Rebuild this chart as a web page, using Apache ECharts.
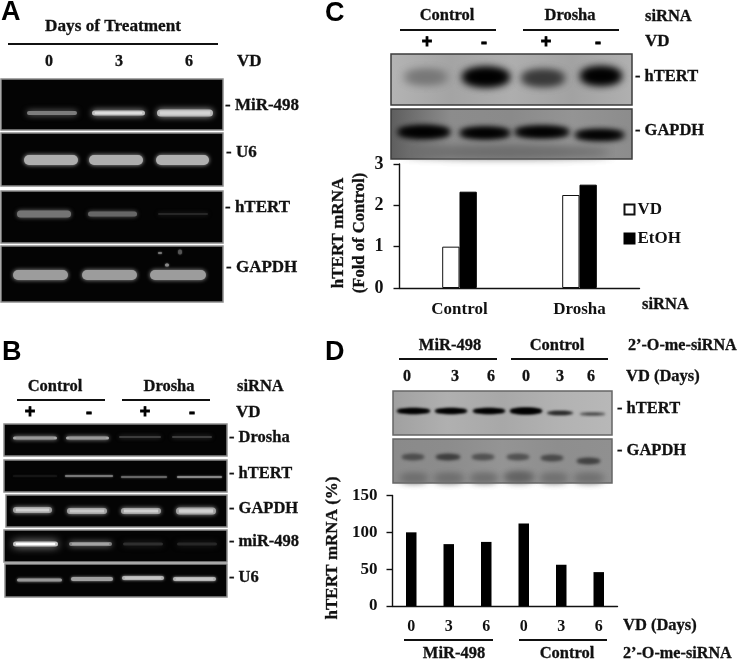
<!DOCTYPE html>
<html>
<head>
<meta charset="utf-8">
<style>html,body{margin:0;padding:0;background:#fff}#c{width:745px;height:659px;filter:blur(0.45px)}</style>
<script src="https://cdn.jsdelivr.net/npm/echarts@6/dist/echarts.min.js"></script>
</head>
<body>
<div id="c"></div>
<script>
// ---- chart data ----
var siRnaCategories = ['Control', 'Drosha'];
var vdValues = [1.0, 2.25];
var etohValues = [2.33, 2.5];
var dayCategories = ['0', '3', '6', '0', '3', '6'];
var mrnaPercent = [100, 84, 87, 112, 56, 46];

// ---- text annotations: [text, x, y, size, align] ----
var SERIF = '"Liberation Serif","Times New Roman",serif';
var SANS = '"Liberation Sans",Arial,sans-serif';
var notes = [
  ['Days of Treatment',113,27,17.2,'center'],
  ['0',49,62,16,'center'],['3',119,62,16,'center'],['6',189,62,16,'center'],['VD',237,62,17,'left'],
  ['- MiR-498',225,106,17,'left'],['- U6',226,153,17,'left'],['- hTERT',225,208,17,'left'],['- GAPDH',226,268,17,'left'],
  ['Control',55,387,16.5,'center'],['Drosha',169,387,16.5,'center'],['siRNA',237,387,16.5,'left'],
  ['VD',236,413,17,'left'],
  ['- Drosha',229,438,16.5,'left'],['- hTERT',229,474,16.5,'left'],['- GAPDH',229,509,16.5,'left'],['- miR-498',229,542,16.5,'left'],['- U6',229,578,16.5,'left'],
  ['Control',447,16,16.5,'center'],['Drosha',570,16,16.5,'center'],['siRNA',645,17,16.5,'left'],
  ['VD',645,42,17,'left'],
  ['- hTERT',635,77,16.5,'left'],['- GAPDH',635,131,16.5,'left'],
  ['siRNA',642,305,16.5,'left'],
  ['MiR-498',450,346,16.5,'center'],['Control',557,346,16.5,'center'],['2\u2019-O-me-siRNA',628,346,16.2,'left'],
  ['0',407,377,16,'center'],['3',455,377,16,'center'],['6',491,377,16,'center'],['0',526,377,16,'center'],['3',560,377,16,'center'],['6',591,377,16,'center'],
  ['VD (Days)',626,377,16.5,'left'],
  ['- hTERT',617,409,16.5,'left'],['- GAPDH',617,451,16.5,'left'],
  ['VD (Days)',623,626,16.5,'left'],
  ['MiR-498',454,654,16.5,'center'],['Control',567,654,16.5,'center'],['2\u2019-O-me-siRNA',623,654,16.2,'left']
];
var signs = [['+',30,412],['-',89,413],['+',145,412],['-',192,413],['+',427,42],['-',484,43],['+',546,42],['-',598,43]];
var panelLetters = [['A',1,13],['B',2,353],['C',325,14],['D',325,353]];
var rotatedNotes = [['hTERT mRNA',339,233,17],['(Fold of Control)',360,233,16.6],['hTERT mRNA (%)',333,548,17]];
var rules = [[8,218,44],[17,105,400],[122,210,400],[400,496,30],[523,619,30],[399,497,359],[511,608,359],[404,493,640],[519,607,640]];

// ---- blot artwork: panel box, background, then bands [x1,x2,yc,h,colour,blur,coreColour] ----
var blots = [
 {box:[1,79,222,51],bands:[[27,77,113,4,'#7c7c7c',3],[92,145,113,5,'#bcbcbc',3,'#dcdcdc'],[157,213,113,7,'#b8b8b8',3,'#d4d4d4']]},
 {box:[1,133,222,53],bands:[[24,78,160,10,'#adadad',2],[89,143,160,10,'#adadad',2],[156,209,160,10,'#b0b0b0',2]]},
 {box:[1,191,222,52],bands:[[17,71,214,7,'#747474',2],[88,137,214,5,'#666',2],[158,208,214,2,'#262626',2]]},
 {box:[1,246,222,56],bands:[[13,68,275,10,'#9c9c9c',2],[82,137,275,10,'#9c9c9c',2],[150,206,275,10,'#9c9c9c',2],[165,169,265,3,'#8a8a8a',1],[178,182,252,5,'#555',1],[158,162,253,2,'#777',1]]},
 {box:[4,424,223,32],bands:[[13,57,438,3,'#a8a8a8',2,'#909090'],[66,109,438,3,'#a8a8a8',2,'#909090'],[119,161,437,2,'#3c3c3c',2],[172,212,437,2,'#3c3c3c',2]]},
 {box:[4,460,223,32],bands:[[13,57,476,1,'#1e1e1e',1],[65,113,476,2,'#777',1],[121,167,477,2,'#666',1],[177,222,477,2,'#888',1]]},
 {box:[6,495,221,32],bands:[[13,52,510,6,'#a0a0a0',2,'#d0d0d0'],[67,107,511,6,'#a0a0a0',2,'#c8c8c8'],[121,161,511,6,'#a0a0a0',2,'#d0d0d0'],[176,216,511,7,'#a0a0a0',2,'#d0d0d0']]},
 {box:[4,530,223,32],bands:[[13,58,544,5,'#c0c0c0',4,'#fff'],[69,112,544,4,'#808080',3,'#a8a8a8'],[123,163,544,3,'#2e2e2e',3],[177,217,544,3,'#262626',3]]},
 {box:[5,564,222,33],bands:[[17,62,580,3,'#989898',1.5],[71,113,579,4,'#a0a0a0',1.5],[122,164,578,4,'#b0b0b0',1.5,'#c8c8c8'],[173,216,579,4,'#b0b0b0',1.5,'#c8c8c8']]},
 {box:[391,54,241,51],border:'#3c3c3c',film:['#b4b4b4','#a4a4a4','#aeaeae','#a2a2a2','#b0b0b0'],bands:[[405,447,77,12,'#767676',8],[463,509,77,17,'#000',7],[522,564,78,14,'#383838',7],[581,621,76,16,'#000',7]]},
 {box:[391,109,241,50],border:'#3c3c3c',film:['#5e5e5e','#8c8c8c','#8a8a8a','#949494','#8c8c8c'],bands:[[398,450,132,11,'#000',5],[460,510,133,10,'#000',5],[515,569,132,10,'#000',5],[575,624,135,9,'#000',5],[405,610,152,8,'#6a6a6a',8]]},
 {box:[393,391,219,44],border:'#666',film:['#a0a0a0','#b0b0b0','#a8a8a8','#b2b2b2','#b8b8b8'],bands:[[397,430,411,5,'#000',2.5],[435,467,411,5,'#000',2.5],[473,505,411,5,'#000',2.5],[510,542,411,6,'#000',2.5],[547,573,413,3,'#222',2.5],[580,605,414,2,'#444',2.5]]},
 {box:[393,439,219,44],border:'#666',film:['#8a8a8a','#8c8c8c','#949494','#8e8e8e','#909090'],bands:[[402,424,457,5,'#4c4c4c',3],[436,460,457,5,'#3c3c3c',3],[472,494,457,5,'#505050',3],[507,529,457,5,'#505050',3],[541,563,458,5,'#484848',3],[577,600,461,5,'#404040',3],[400,428,478,7,'#6c6c6c',6],[434,464,478,7,'#6c6c6c',6],[470,498,478,7,'#6c6c6c',6],[504,534,477,8,'#606060',6],[540,568,478,7,'#6e6e6e',6],[574,604,478,7,'#6e6e6e',6]]}
];

// ---- build graphic artwork ----
var OFF = 1500;
var graphics = [];
blots.forEach(function (p) {
  var b = p.box, fill = '#040404';
  if (p.film) {
    fill = new echarts.graphic.LinearGradient(0, 0, 1, 0, p.film.map(function (c, i) {
      return { offset: i / (p.film.length - 1), color: c };
    }));
  }
  graphics.push({ type: 'rect', silent: true, shape: { x: b[0], y: b[1], width: b[2], height: b[3] },
    style: { fill: fill, stroke: p.border || '#8c8c8c', lineWidth: 1.5 } });
  p.bands.forEach(function (s) {
    if (p.film) {
      // film bands: only the blurred shadow of a lens shape is visible
      for (var k = 0; k < 2; k++) {
        graphics.push({ type: 'ellipse', silent: true,
          shape: { cx: (s[0] + s[1]) / 2 - OFF, cy: s[2], rx: (s[1] - s[0]) / 2, ry: s[3] / 2 },
          style: { fill: s[4], shadowBlur: s[5] * 1.2, shadowColor: s[4], shadowOffsetX: OFF } });
      }
      return;
    }
    graphics.push({ type: 'rect', silent: true,
      shape: { x: s[0], y: s[2] - s[3] / 2, width: s[1] - s[0], height: s[3], r: s[3] / 2 },
      style: { fill: s[4], shadowBlur: s[5] * 2, shadowColor: s[4] } });
    if (s[6]) {
      graphics.push({ type: 'rect', silent: true,
        shape: { x: s[0] + 3, y: s[2] - s[3] / 5, width: s[1] - s[0] - 6, height: s[3] / 2.5 },
        style: { fill: s[6], shadowBlur: 2, shadowColor: s[6] } });
    }
  });
});
rules.forEach(function (r) {
  graphics.push({ type: 'line', silent: true, shape: { x1: r[0], y1: r[2], x2: r[1], y2: r[2] },
    style: { stroke: '#111', lineWidth: 2 } });
});
notes.forEach(function (n) {
  graphics.push({ type: 'text', silent: true, x: n[1], y: n[2],
    style: { text: n[0], fill: '#111', stroke: '#111', lineWidth: 0.3, font: 'bold ' + n[3] + 'px ' + SERIF, align: n[4], verticalAlign: 'middle' } });
});
signs.forEach(function (n) {
  graphics.push({ type: 'text', silent: true, x: n[1], y: n[2],
    style: { text: n[0], fill: '#000', stroke: '#000', lineWidth: 0.8, font: 'bold 18px ' + SANS, align: 'center', verticalAlign: 'middle' } });
});
rotatedNotes.forEach(function (n) {
  graphics.push({ type: 'text', silent: true, x: n[1], y: n[2], rotation: Math.PI / 2,
    style: { text: n[0], fill: '#111', stroke: '#111', lineWidth: 0.3, font: 'bold ' + n[3] + 'px ' + SERIF, align: 'center', verticalAlign: 'middle' } });
});
panelLetters.forEach(function (n) {
  graphics.push({ type: 'text', silent: true, x: n[1], y: n[2],
    style: { text: n[0], fill: '#000', font: 'bold 27px ' + SANS, align: 'left', verticalAlign: 'middle' } });
});

var axisLine = { lineStyle: { color: '#111', width: 1.4 } };
var tick = { length: 6, lineStyle: { color: '#111', width: 1.4 } };
var labelFont = { color: '#111', fontFamily: SERIF, fontWeight: 'bold' };

var option = {
  animation: false,
  backgroundColor: '#fff',
  textStyle: { fontFamily: SERIF },
  legend: {
    orient: 'vertical', left: 623.5, top: 201, itemWidth: 10, itemHeight: 10, itemGap: 12, padding: 0,
    icon: 'rect', selectedMode: false,
    textStyle: { color: '#111', fontFamily: SERIF, fontWeight: 'bold', fontSize: 17, padding: [0, 0, 0, -2] },
    data: ['VD', 'EtOH']
  },
  grid: [
    { left: 399.5, top: 164, width: 240, height: 124, containLabel: false },
    { left: 392.5, top: 495.5, width: 225, height: 110.5, containLabel: false }
  ],
  xAxis: [
    { type: 'category', gridIndex: 0, data: siRnaCategories, axisLine: axisLine, axisTick: tick,
      axisLabel: Object.assign({ fontSize: 17, margin: 13 }, labelFont) },
    { type: 'category', gridIndex: 1, data: dayCategories, axisLine: axisLine, axisTick: tick,
      axisLabel: Object.assign({ fontSize: 16, margin: 13, interval: 0 }, labelFont) }
  ],
  yAxis: [
    { type: 'value', gridIndex: 0, min: 0, max: 3, interval: 1, splitLine: { show: false },
      axisLine: Object.assign({ show: true }, axisLine), axisTick: Object.assign({ show: true }, tick),
      axisLabel: Object.assign({ fontSize: 18, margin: 16 }, labelFont) },
    { type: 'value', gridIndex: 1, min: 0, max: 150, interval: 50, splitLine: { show: false },
      axisLine: Object.assign({ show: true }, axisLine), axisTick: Object.assign({ show: true }, tick),
      axisLabel: Object.assign({ fontSize: 17, margin: 15 }, labelFont) }
  ],
  series: [
    { name: 'VD', type: 'bar', xAxisIndex: 0, yAxisIndex: 0, data: vdValues, barWidth: 17.3, barGap: 0,
      itemStyle: { color: '#fff', borderColor: '#111', borderWidth: 1 } },
    { name: 'EtOH', type: 'bar', xAxisIndex: 0, yAxisIndex: 0, data: etohValues, barWidth: 17.3, barGap: 0,
      itemStyle: { color: '#000', borderColor: '#000', borderWidth: 1 } },
    { name: 'hTERT mRNA (%)', type: 'bar', xAxisIndex: 1, yAxisIndex: 1, data: mrnaPercent, barWidth: 10.5,
      itemStyle: { color: '#000' } }
  ],
  graphic: { elements: graphics }
};
var chart = echarts.init(document.getElementById('c'));
chart.setOption(option);
</script>
</body>
</html>
